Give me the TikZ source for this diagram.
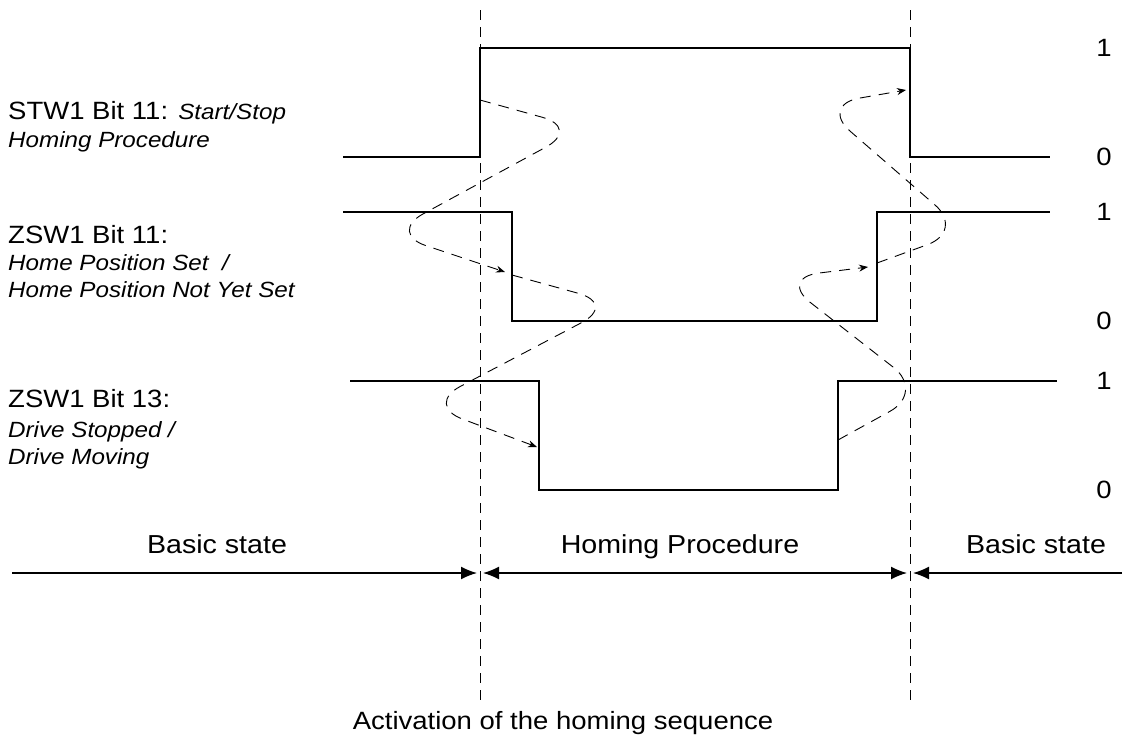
\documentclass[tikz,border=0pt]{standalone}
\usepackage{fontspec}
\setmainfont{Liberation Sans}[FakeStretch=1.1]
\usetikzlibrary{arrows.meta}
\newcommand{\bitnote}[1]{{\fontsize{22}{26}\selectfont\itshape #1}}

\begin{document}
\begin{tikzpicture}[x=1pt, y=-1pt,
  sigline/.style={line width=1.8pt},
  guide/.style={line width=1pt, dash pattern=on 10pt off 7pt},
  flow/.style={line width=0.9pt, dash pattern=on 11pt off 8pt, rounded corners=40pt, -{Stealth[length=9pt, width=7pt]}},
  phase/.style={line width=1.5pt},
  tip/.tip={Latex[length=16pt, width=13pt]},
  lbl/.style={anchor=base west, inner sep=0pt, font=\fontsize{25}{30}\selectfont},
  sublbl/.style={anchor=base west, inner sep=0pt, font=\fontsize{22}{26}\selectfont\itshape},
  phaselbl/.style={anchor=base, inner sep=0pt, font=\fontsize{26}{31}\selectfont},
  lvl/.style={inner sep=0pt, font=\fontsize{25}{30}\selectfont}]
\useasboundingbox (0,0) rectangle (1125,742);
% guide lines at start and end of homing
\foreach \x/\n in {480/on, 910/off}
{
    \coordinate (top\n) at (\x,10);
    \coordinate (bot\n) at (\x,702);
    \draw[guide] (top\n) -- (bot\n);
}
% signals
\draw[sigline] (343,157) -- (480,157) |- (910,48) |- (1050,157);
\draw[sigline] (343,212) -- (512,212) |- (877,321) |- (1050,212);
\draw[sigline] (350,381) -- (539,381) |- (838,490) |- (1057,381);
\foreach \hi/\lo [count=\i] in {48/157, 212/321, 381/490}
{
    \node[lvl] (one\i) at (1104,\hi) {1};
    \node[lvl] (zero\i) at (1104,\lo) {0};
}
% labels
\node[lbl] (stw) at (8,119) {STW1 Bit 11: \bitnote{Start/Stop}};
\node[sublbl] (stwa) at (8,147) {Homing Procedure};
\node[lbl] (zsw11) at (8,243) {ZSW1 Bit 11:};
\node[sublbl] (zsw11a) at (8,270) {Home Position Set~ /};
\node[sublbl] (zsw11b) at (8,297) {Home Position Not Yet Set};
\node[lbl] (zsw13) at (8,407) {ZSW1 Bit 13:};
\node[sublbl] (zsw13a) at (8,437) {Drive Stopped /};
\node[sublbl] (zsw13b) at (8,464) {Drive Moving};
% cause and effect
\coordinate (a0) at (480,100);
\coordinate (a1) at (505,272);
\coordinate (b0) at (512,275);
\coordinate (b1) at (537,447);
\coordinate (c0) at (838,440);
\coordinate (c1) at (868,267);
\coordinate (d0) at (877,263);
\coordinate (d1) at (906,90);
\draw[flow] (a0) -- (581,128) -- (388,233) -- (a1);
\draw[flow] (b0) -- (617,304) -- (425,405) -- (b1);
\draw[flow] (c0) -- (925,392) -- (779,278) -- (c1);
\draw[flow] (d0) -- (965,231) -- (820,105) -- (d1);
% phases
\node[phaselbl] (basic1) at (217,553) {Basic state};
\node[phaselbl] (homing) at (680,553) {Homing Procedure};
\node[phaselbl] (basic2) at (1036,553) {Basic state};
\coordinate (p0) at (12,573);
\coordinate (p1) at (477,573);
\coordinate (p2) at (483,573);
\coordinate (p3) at (907,573);
\coordinate (p4) at (913,573);
\coordinate (p5) at (1122,573);
\draw[phase, -tip] (p0) -- (p1);
\draw[phase, tip-tip] (p2) -- (p3);
\draw[phase, -tip] (p5) -- (p4);
\node[phaselbl, font=\fontsize{25}{30}\selectfont] (caption) at (563,729) {Activation of the homing sequence};
\end{tikzpicture}
\end{document}
